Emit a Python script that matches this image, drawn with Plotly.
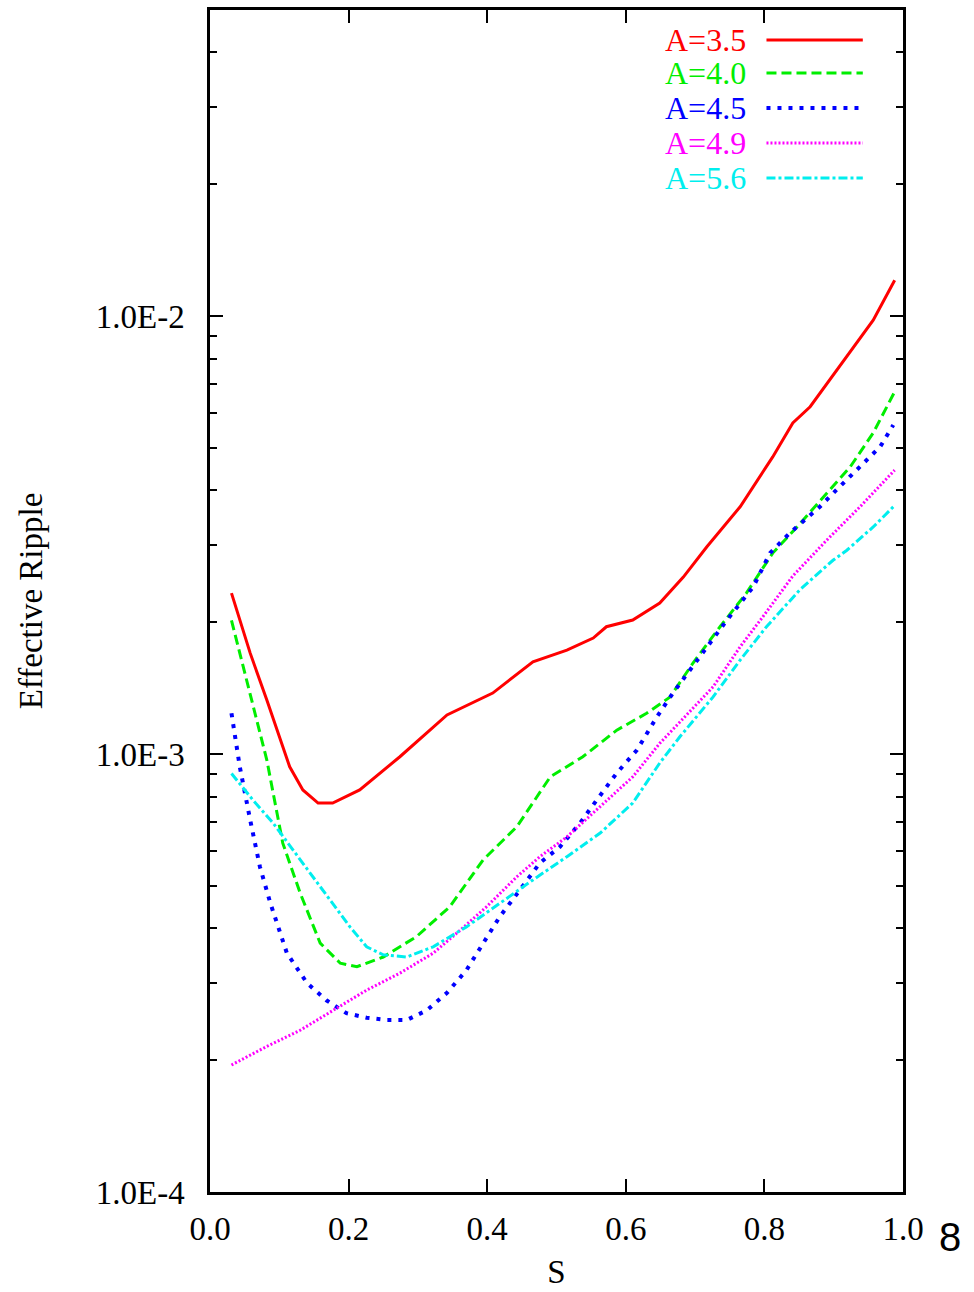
import plotly.graph_objects as go

# Normalized flux label s along the horizontal axis
s_a35 = [0.031, 0.058, 0.082, 0.115, 0.134, 0.156, 0.177, 0.216, 0.274, 0.342, 0.408,
         0.466, 0.515, 0.553, 0.572, 0.610, 0.649, 0.683, 0.717, 0.765, 0.812, 0.841,
         0.866, 0.919, 0.957, 0.988]
eps_a35 = [2.33e-3, 1.70e-3, 1.328e-3, 9.35e-4, 8.28e-4, 7.73e-4, 7.73e-4, 8.28e-4, 9.86e-4,
           1.228e-3, 1.378e-3, 1.624e-3, 1.727e-3, 1.84e-3, 1.953e-3, 2.023e-3, 2.212e-3,
           2.536e-3, 2.974e-3, 3.67e-3, 4.77e-3, 5.70e-3, 6.21e-3, 8.07e-3, 9.79e-3, 1.208e-2]

s_a40 = [0.031, 0.058, 0.082, 0.105, 0.130, 0.159, 0.188, 0.212, 0.250, 0.298, 0.346,
         0.394, 0.443, 0.491, 0.538, 0.587, 0.630, 0.664, 0.697, 0.736, 0.774, 0.812,
         0.847, 0.890, 0.924, 0.957, 0.988]
eps_a40 = [2.02e-3, 1.376e-3, 9.69e-4, 6.26e-4, 4.82e-4, 3.70e-4, 3.33e-4, 3.27e-4, 3.44e-4,
           3.83e-4, 4.48e-4, 5.73e-4, 6.83e-4, 8.87e-4, 9.86e-4, 1.134e-3, 1.239e-3,
           1.35e-3, 1.614e-3, 1.953e-3, 2.33e-3, 2.877e-3, 3.30e-3, 3.94e-3, 4.53e-3,
           5.41e-3, 6.72e-3]

s_a45 = [0.031, 0.043, 0.058, 0.072, 0.087, 0.111, 0.140, 0.168, 0.197, 0.226, 0.255,
         0.284, 0.313, 0.342, 0.370, 0.394, 0.418, 0.447, 0.476, 0.505, 0.534, 0.558,
         0.587, 0.616, 0.645, 0.668, 0.707, 0.746, 0.784, 0.808, 0.837, 0.880, 0.904,
         0.938, 0.967, 0.986]
eps_a45 = [1.239e-3, 9.35e-4, 7.07e-4, 5.53e-4, 4.57e-4, 3.51e-4, 3.00e-4, 2.74e-4, 2.56e-4,
           2.50e-4, 2.47e-4, 2.47e-4, 2.60e-4, 2.85e-4, 3.21e-4, 3.70e-4, 4.25e-4, 4.89e-4,
           5.64e-4, 6.14e-4, 6.96e-4, 7.85e-4, 9.05e-4, 1.021e-3, 1.217e-3, 1.378e-3,
           1.668e-3, 2.023e-3, 2.41e-3, 2.877e-3, 3.20e-3, 3.67e-3, 4.01e-3, 4.53e-3,
           5.03e-3, 5.64e-3]

s_a49 = [0.031, 0.082, 0.130, 0.177, 0.226, 0.274, 0.322, 0.361, 0.399, 0.443, 0.476,
         0.515, 0.563, 0.610, 0.649, 0.726, 0.765, 0.798, 0.841, 0.890, 0.938, 0.988]
eps_a49 = [1.95e-4, 2.15e-4, 2.34e-4, 2.60e-4, 2.89e-4, 3.16e-4, 3.51e-4, 3.96e-4, 4.48e-4,
           5.25e-4, 5.83e-4, 6.47e-4, 7.58e-4, 8.87e-4, 1.058e-3, 1.424e-3, 1.758e-3,
           2.06e-3, 2.55e-3, 3.08e-3, 3.67e-3, 4.45e-3]

s_a56 = [0.031, 0.062, 0.091, 0.120, 0.149, 0.177, 0.202, 0.226, 0.250, 0.284, 0.322,
         0.370, 0.418, 0.466, 0.515, 0.563, 0.610, 0.649, 0.678, 0.726, 0.765, 0.803,
         0.851, 0.899, 0.919, 0.957, 0.986]
eps_a56 = [9.03e-4, 7.85e-4, 6.96e-4, 6.04e-4, 5.25e-4, 4.57e-4, 4.03e-4, 3.63e-4, 3.48e-4,
           3.44e-4, 3.63e-4, 4.03e-4, 4.57e-4, 5.16e-4, 5.83e-4, 6.60e-4, 7.73e-4, 9.54e-4,
           1.095e-3, 1.351e-3, 1.639e-3, 1.953e-3, 2.37e-3, 2.77e-3, 2.92e-3, 3.30e-3,
           3.67e-3]

series_names = ["A=3.5", "A=4.0", "A=4.5", "A=4.9", "A=5.6"]
series_x = [s_a35, s_a40, s_a45, s_a49, s_a56]
series_y = [eps_a35, eps_a40, eps_a45, eps_a49, eps_a56]
colors = ["#ff0000", "#00ee00", "#0000ff", "#ff00ff", "#00eeee"]
dashes = ["solid", "10px,5px", "4px,7px", "2px,2px", "9px,3px,3px,3px"]
widths = [3, 3, 4, 3, 3]

x_ticks = [0.0, 0.2, 0.4, 0.6, 0.8, 1.0]
x_ticktext = ["0.0", "0.2", "0.4", "0.6", "0.8", "1.0"]
y_ticks = [1e-4, 1e-3, 1e-2]
y_ticktext = ["1.0E-4", "1.0E-3", "1.0E-2"]
y_minor = [m * 10.0 ** e for e in (-4, -3, -2) for m in range(2, 10) if m * 10.0 ** e <= 5e-2]

SERIF = "Liberation Serif, Times New Roman, serif"

fig = go.Figure()
for name, xs, ys, c, d, w in zip(series_names, series_x, series_y, colors, dashes, widths):
    fig.add_trace(go.Scatter(x=xs, y=ys, mode="lines", name=name,
                             line=dict(color=c, width=w, dash=d), showlegend=False))

# Key in the upper right: label text, then a line sample to its right
legend_rows = [0.9746, 0.9467, 0.9171, 0.8875, 0.8579]
for name, c, d, w, yr in zip(series_names, colors, dashes, widths, legend_rows):
    fig.add_annotation(x=0.776, y=yr, xref="paper", yref="paper", text=name,
                       showarrow=False, xanchor="right", yanchor="middle",
                       font=dict(family=SERIF, size=32, color=c))
    fig.add_shape(type="line", xref="paper", yref="paper", x0=0.803, x1=0.942,
                  y0=yr, y1=yr, line=dict(color=c, width=w, dash=d))

fig.add_annotation(x=1.068, y=-0.038, xref="paper", yref="paper", text="8",
                   showarrow=False, xanchor="center", yanchor="middle",
                   font=dict(family="Liberation Sans, Arial, sans-serif", size=40, color="black"))

fig.update_layout(
    width=974, height=1292,
    margin=dict(l=210, r=71, t=10, b=100),
    paper_bgcolor="white", plot_bgcolor="white",
    font=dict(family=SERIF, size=33, color="black"),
    xaxis=dict(range=[0, 1], tickvals=x_ticks, ticktext=x_ticktext,
               ticks="inside", ticklen=13, tickwidth=1.5, tickcolor="black",
               showline=True, linecolor="black", linewidth=2.5, mirror="allticks",
               showgrid=False, zeroline=False, ticklabelstandoff=6, automargin=False,
               title=dict(text="S", font=dict(family=SERIF, size=33), standoff=14)),
    yaxis=dict(type="log", range=[-4, -1.30103], tickvals=y_ticks, ticktext=y_ticktext,
               ticks="inside", ticklen=13, tickwidth=2, tickcolor="black",
               minor=dict(tickvals=y_minor, ticks="inside", ticklen=7, tickwidth=1.5,
                          tickcolor="black", showgrid=False),
               showline=True, linecolor="black", linewidth=2.5, mirror="allticks",
               showgrid=False, zeroline=False, ticklabelstandoff=16, automargin=False,
               title=dict(text="Effective Ripple", font=dict(family=SERIF, size=33),
                          standoff=44)),
)

fig.write_html("out.html")
